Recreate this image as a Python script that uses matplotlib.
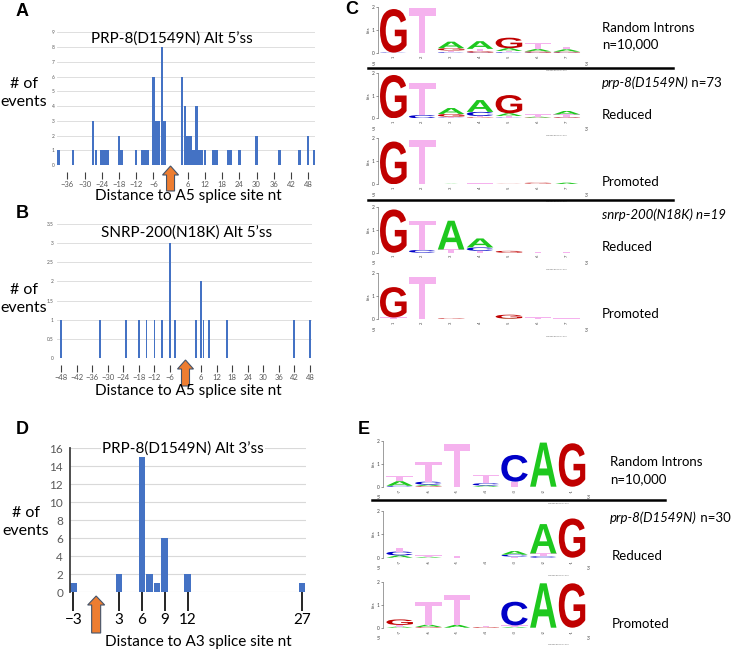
import numpy as np
import matplotlib
matplotlib.use("Agg")
import matplotlib.pyplot as plt
import matplotlib.transforms as mtrans
from matplotlib.textpath import TextPath
from matplotlib.patches import PathPatch, FancyArrow
from matplotlib.font_manager import FontProperties
from matplotlib.lines import Line2D
from matplotlib.ticker import FormatStrFormatter

plt.rcParams['font.family'] = ['Lato', 'DejaVu Sans']

# ---- data: alternative 5'ss, prp-8(D1549N)
a_pos = [-39, -34, -27, -26, -24, -23, -22, -18, -17, -12, -10, -9, -8, -6, -5, -4, -3, -2,
         4, 5, 6, 7, 8, 9, 10, 11, 12, 15, 16, 20, 21, 24, 30, 38, 45, 48, 50]
a_cnt = [1, 1, 3, 1, 1, 1, 1, 2, 1, 1, 1, 1, 1, 6, 3, 3, 8, 3,
         6, 4, 2, 2, 1, 4, 1, 1, 1, 1, 1, 1, 1, 1, 2, 1, 1, 2, 1]
a_ticks = [-36, -30, -24, -18, -12, -6, 6, 12, 18, 24, 30, 36, 42, 48]

# ---- data: alternative 5'ss, snrp-200(N18K)
b_pos = [-48, -33, -23, -18, -15, -12, -9, -6, -4, 4, 6, 7, 9, 16, 42, 48]
b_cnt = [1, 1, 1, 1, 1, 1, 1, 3, 1, 1, 2, 1, 1, 1, 1, 1]
b_ticks = [-48, -42, -36, -30, -24, -18, -12, -6, 6, 12, 18, 24, 30, 36, 42, 48]

# ---- data: alternative 3'ss, prp-8(D1549N)
d_pos = [-3, 3, 6, 7, 8, 9, 12, 27]
d_cnt = [1, 2, 15, 2, 1, 6, 2, 1]
d_ticks = [-3, 3, 6, 9, 12, 27]

# ---- sequence logos (letter, bits) per column, 5'ss
logo_rand5 = [[('C', 0.03), ('G', 1.87)], [('T', 1.93)],
              [('C', 0.04), ('T', 0.08), ('G', 0.1), ('A', 0.28)],
              [('C', 0.03), ('G', 0.06), ('T', 0.1), ('A', 0.33)],
              [('C', 0.04), ('T', 0.06), ('A', 0.12), ('G', 0.45)],
              [('C', 0.03), ('G', 0.05), ('A', 0.1), ('T', 0.25)],
              [('C', 0.03), ('G', 0.04), ('A', 0.1), ('T', 0.12)]]
logo_prp8_red5 = [[('G', 1.9)], [('C', 0.14), ('T', 1.39)],
                  [('C', 0.03), ('T', 0.04), ('G', 0.12), ('A', 0.26)],
                  [('G', 0.04), ('T', 0.06), ('C', 0.18), ('A', 0.52)],
                  [('C', 0.03), ('T', 0.07), ('A', 0.12), ('G', 0.8)],
                  [('G', 0.03), ('A', 0.04), ('T', 0.1)],
                  [('C', 0.02), ('G', 0.03), ('A', 0.15), ('T', 0.12)]]
logo_prp8_pro5 = [[('G', 1.86)], [('T', 1.93)], [('A', 0.02)], [('T', 0.04)],
                  [('G', 0.02)], [('T', 0.03), ('G', 0.04)], [('A', 0.07)]]
logo_snrp_red5 = [[('G', 1.88)], [('C', 0.12), ('T', 1.27)], [('T', 0.14), ('A', 1.25)],
                  [('T', 0.08), ('C', 0.15), ('A', 0.39)], [('G', 0.08)],
                  [('T', 0.05)], [('T', 0.03)]]
logo_snrp_pro5 = [[('T', 0.08), ('G', 1.32)], [('T', 1.83)], [('G', 0.04)], [],
                  [('A', 0.03), ('G', 0.17)], [('T', 0.08)], [('T', 0.04)]]

# ---- sequence logos, 3'ss
logo_rand3 = [[('C', 0.04), ('A', 0.2), ('T', 0.23)],
              [('G', 0.03), ('A', 0.06), ('C', 0.13), ('T', 0.87)],
              [('T', 1.88)], [('A', 0.05), ('C', 0.1), ('T', 0.36)],
              [('T', 0.22), ('C', 1.17)], [('A', 1.93)], [('G', 1.9)]]
logo_prp8_red3 = [[('A', 0.1), ('C', 0.16), ('T', 0.17)], [('A', 0.04), ('T', 0.06)],
                  [('T', 0.07)], [], [('T', 0.05), ('C', 0.08), ('A', 0.15)],
                  [('C', 0.06), ('T', 0.12), ('A', 1.25)], [('G', 1.67)]]
logo_prp8_pro3 = [[('A', 0.05), ('T', 0.07), ('G', 0.24)],
                  [('G', 0.03), ('A', 0.1), ('T', 0.98)], [('A', 0.12), ('T', 1.3)],
                  [('G', 0.03), ('T', 0.03)], [('A', 0.04), ('T', 0.06), ('C', 1.03)],
                  [('A', 1.93)], [('G', 1.93)]]

BAR = '#4472c4'
GRID = '#d9d9d9'
TICKC = '#595959'
ORANGE = '#ed7d31'
LETTER_COL = {'G': '#c00000', 'T': '#f5b2ee', 'A': '#1ec81e', 'C': '#0000c8'}
LOGO_FP = FontProperties(family='Liberation Sans', weight='bold')

W, H = 732, 652
fig = plt.figure(figsize=(W / 100, H / 100), dpi=100)


def px_axes(x0, y0, x1, y1):
    return fig.add_axes([x0 / W, 1 - y1 / H, (x1 - x0) / W, (y1 - y0) / H])


def ftext(x, y, s, **kw):
    return fig.text(x / W, 1 - y / H, s, **kw)


def up_arrow(ax, xdata, top, bottom, shaft=8, head=16):
    xd = ax.transData.transform((xdata, 0))[0]
    arr = FancyArrow(xd, H - bottom, 0, bottom - top, width=shaft, head_width=head,
                     head_length=9, length_includes_head=True,
                     transform=mtrans.IdentityTransform(), fc=ORANGE, ec='#44546a', lw=0.8)
    fig.add_artist(arr)


def hist_axes(ax, pos, cnt, ticks, ymax, ystep, width):
    ax.bar(pos, cnt, width=width, color=BAR, zorder=2)
    ax.set_ylim(0, ymax)
    ax.set_yticks(np.arange(0, ymax + 0.01, ystep))
    ax.yaxis.set_major_formatter(FormatStrFormatter('%g'))
    ax.yaxis.grid(True, color=GRID, lw=0.6, zorder=0)
    ax.set_axisbelow(True)
    for s in ['top', 'right', 'left']:
        ax.spines[s].set_visible(False)
    ax.spines['bottom'].set_position(('outward', 5))
    ax.spines['bottom'].set_visible(False)
    ax.set_xticks(ticks)
    ax.tick_params(axis='x', length=5, width=0.8, color='#404040', labelsize=5.5,
                   labelcolor=TICKC, pad=1.5)
    ax.tick_params(axis='y', length=0, labelsize=3.5, labelcolor=TICKC, pad=2)


# ---------------- panel A
axA = px_axes(57.3, 32.3, 315.3, 165)
hist_axes(axA, a_pos, a_cnt, a_ticks, 9, 1, 0.92)
axA.set_xlim(-39.5, 50.5)
ftext(172, 39, 'PRP-8(D1549N) Alt 5’ss', fontsize=11, ha='center', va='center')
ftext(188, 196, 'Distance to A5 splice site nt', fontsize=11, ha='center', va='center')
ftext(24, 93, '# of\nevents', fontsize=11.5, ha='center', va='center', linespacing=1.3)
up_arrow(axA, 0, 166, 191)

# ---------------- panel B
axB = px_axes(56.7, 224, 311.7, 358)
hist_axes(axB, b_pos, b_cnt, b_ticks, 3.5, 0.5, 0.65)
axB.set_xlim(-49.7, 48.7)
ftext(187, 233, 'SNRP-200(N18K) Alt 5’ss', fontsize=11, ha='center', va='center')
ftext(188, 391, 'Distance to A5 splice site nt', fontsize=11, ha='center', va='center')
ftext(24, 299, '# of\nevents', fontsize=11.5, ha='center', va='center', linespacing=1.3)
up_arrow(axB, 0, 360, 386)

# ---------------- panel D
axD = px_axes(70, 448.3, 306, 592.3)
axD.bar(d_pos, d_cnt, width=0.87, color=BAR, zorder=2)
axD.set_xlim(-3.43, 27.52)
axD.set_ylim(0, 16)
axD.set_yticks(np.arange(0, 17, 2))
axD.yaxis.grid(True, color=GRID, lw=0.8, zorder=0)
axD.set_axisbelow(True)
for s in ['top', 'right', 'bottom']:
    axD.spines[s].set_visible(False)
axD.spines['left'].set_color('#404040')
axD.spines['left'].set_linewidth(1.3)
axD.set_xticks(d_ticks)
axD.tick_params(axis='x', length=14, width=1.2, color='black', labelsize=11, pad=1)
axD.tick_params(axis='y', length=0, labelsize=8.5, labelcolor=TICKC, pad=5)
ftext(183, 449, 'PRP-8(D1549N) Alt 3’ss', fontsize=11, ha='center', va='center',
      bbox=dict(fc='white', ec='none', pad=0.5))
ftext(198, 642, 'Distance to A3 splice site nt', fontsize=11, ha='center', va='center')
ftext(26, 522, '# of\nevents', fontsize=11.5, ha='center', va='center', linespacing=1.3)
up_arrow(axD, 0, 596, 633, shaft=9, head=17)

# ---------------- logos


def draw_logo(x0, x1, ytop, ybot, columns, xlo, xhi, pos_labels):
    ax = px_axes(x0, ytop, x1, ybot)
    ax.set_xlim(xlo, xhi)
    ax.set_ylim(0, 2)
    for i, stack in enumerate(columns):
        xc = i + 1
        base = 0.0
        for ch, hgt in sorted(stack, key=lambda t: t[1]):
            tp = TextPath((0, 0), ch, size=1, prop=LOGO_FP)
            bb = tp.get_extents()
            w = 0.92
            tr = (mtrans.Affine2D().translate(-bb.x0, -bb.y0)
                  .scale(w / bb.width, hgt / bb.height).translate(xc - w / 2, base))
            ax.add_patch(PathPatch(tr.transform_path(tp), fc=LETTER_COL[ch], ec='none', lw=0))
            base += hgt
    for s in ['top', 'right', 'bottom']:
        ax.spines[s].set_visible(False)
    ax.spines['left'].set_linewidth(0.4)
    ax.spines['left'].set_color('#555555')
    ax.set_yticks([0, 1, 2])
    ax.tick_params(axis='y', length=1.5, width=0.4, labelsize=3.5, pad=0.5, colors='#444444')
    ax.set_ylabel('bits', fontsize=3, labelpad=1, color='#444444')
    ax.set_xticks(range(1, len(columns) + 1))
    ax.set_xticklabels(pos_labels, rotation=90)
    ax.tick_params(axis='x', length=0, labelsize=3, pad=1.5, colors='#444444')
    ax.text(-0.01, -0.18, "5'", transform=ax.transAxes, fontsize=3.5, ha='right', va='top',
            color='#444444')
    ax.text(1.0, -0.18, "3'", transform=ax.transAxes, fontsize=3.5, ha='right', va='top',
            color='#444444')
    ax.text(0.9, -0.36, 'weblogo.berkeley.edu', transform=ax.transAxes, fontsize=1.6,
            ha='right', va='top', color='#777777')
    return ax


five = [str(i) for i in range(1, 8)]
three = [str(i) for i in range(-7, 0)]
draw_logo(377.7, 588.7, 6.7, 53.3, logo_rand5, 0.46, 7.76, five)
draw_logo(377.7, 588.7, 72.7, 118.3, logo_prp8_red5, 0.46, 7.76, five)
draw_logo(377.7, 588.7, 138.3, 184.3, logo_prp8_pro5, 0.46, 7.76, five)
draw_logo(377.7, 588.7, 206.7, 252.7, logo_snrp_red5, 0.46, 7.76, five)
draw_logo(377.7, 588.7, 273.3, 319.3, logo_snrp_pro5, 0.46, 7.76, five)
draw_logo(382.7, 590.7, 441, 486.7, logo_rand3, 0.41, 7.65, three)
draw_logo(382.7, 590.7, 510.7, 557.7, logo_prp8_red3, 0.41, 7.65, three)
draw_logo(382.7, 590.7, 581.7, 627.7, logo_prp8_pro3, 0.41, 7.65, three)

# separators
for (xa, xb, yy) in [(368, 673, 68.3), (368, 673, 200), (371.7, 665, 500)]:
    fig.add_artist(Line2D([xa / W, xb / W], [1 - yy / H, 1 - yy / H], color='black', lw=1.8,
                          transform=fig.transFigure))

# logo side labels
LBL = 9.5
renderer = fig.canvas.get_renderer()


def mixed(x, y, it, rest):
    t = ftext(x, y, it, fontsize=LBL, style='italic', va='baseline')
    bb = t.get_window_extent(renderer)
    fig.text(bb.x1 / W, 1 - y / H, rest, fontsize=LBL, va='baseline')


ftext(601.7, 32, 'Random Introns', fontsize=LBL, va='baseline')
ftext(601.7, 48, 'n=10,000', fontsize=LBL, va='baseline')
mixed(601.7, 87, 'prp-8(D1549N)', ' n=73')
ftext(601.7, 119, 'Reduced', fontsize=LBL, va='baseline')
ftext(601.7, 186, 'Promoted', fontsize=LBL, va='baseline')
ftext(601.7, 219, 'snrp-200(N18K) n=19', fontsize=LBL, style='italic', va='baseline')
ftext(601.7, 251, 'Reduced', fontsize=LBL, va='baseline')
ftext(601.7, 317.5, 'Promoted', fontsize=LBL, va='baseline')
ftext(610, 465.5, 'Random Introns', fontsize=LBL, va='baseline')
ftext(610, 483, 'n=10,000', fontsize=LBL, va='baseline')
mixed(610, 521.5, 'prp-8(D1549N)', ' n=30')
ftext(611.7, 560, 'Reduced', fontsize=LBL, va='baseline')
ftext(611.7, 627.5, 'Promoted', fontsize=LBL, va='baseline')

# panel letters
for (lx, ly, lab) in [(22, 11, 'A'), (22, 214, 'B'), (352, 10, 'C'), (22, 429, 'D'), (364, 429, 'E')]:
    ftext(lx, ly, lab, fontsize=13, fontweight='bold', family='Liberation Sans',
          ha='center', va='center')

fig.savefig('out.png', dpi=100)
